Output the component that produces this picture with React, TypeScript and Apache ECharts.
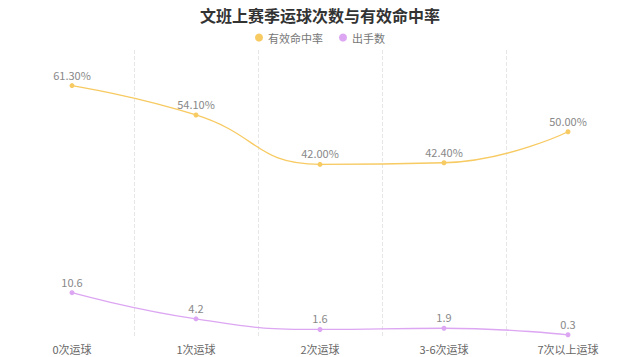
import React, { useEffect, useRef } from "react";
import * as echarts from "echarts";

const categories = ["0次运球", "1次运球", "2次运球", "3-6次运球", "7次以上运球"];
const fgPct = [61.3, 54.1, 42.0, 42.4, 50.0];
const attempts = [10.6, 4.2, 1.6, 1.9, 0.3];

export default function App() {
  const ref = useRef<HTMLDivElement>(null);
  useEffect(() => {
    const chart = echarts.init(ref.current!, null, { renderer: "svg" });
    const font = "'Noto Sans CJK SC', 'Microsoft YaHei', sans-serif";
    chart.setOption({
      animation: false,
      textStyle: { fontFamily: font },
      title: {
        text: "文班上赛季运球次数与有效命中率",
        left: "center",
        top: 2,
        textStyle: { fontSize: 16, fontWeight: "bold", color: "#333", fontFamily: font },
      },
      legend: {
        top: 27,
        left: "center",
        itemWidth: 8,
        itemHeight: 8,
        itemGap: 16,
        icon: "circle",
        textStyle: { fontSize: 11, color: "#777", fontFamily: font },
        data: ["有效命中率", "出手数"],
      },
      grid: { left: 10, right: 10, top: 50, bottom: 21 },
      xAxis: {
        type: "category",
        data: categories,
        boundaryGap: true,
        axisLine: { show: false },
        axisTick: { show: false },
        axisLabel: { color: "#666", fontSize: 11, margin: 7, fontFamily: font },
        splitLine: {
          show: true,
          showMinLine: false,
          showMaxLine: false,
          lineStyle: { type: "dashed", color: "#e6e6e6" },
        },
      },
      yAxis: {
        type: "value",
        min: 0,
        max: 70,
        show: false,
        splitLine: { show: false },
      },
      series: [
        {
          name: "有效命中率",
          type: "line",
          smooth: true,
          data: fgPct,
          symbol: "circle",
          symbolSize: 5,
          itemStyle: { color: "#F7CA62" },
          lineStyle: { width: 1.3, color: "#F7CA62" },
          label: {
            show: true,
            position: "top",
            distance: 3,
            color: "#888",
            fontSize: 11,
            formatter: (p: any) => p.value.toFixed(2) + "%",
          },
        },
        {
          name: "出手数",
          type: "line",
          smooth: true,
          data: attempts,
          symbol: "circle",
          symbolSize: 5,
          itemStyle: { color: "#DCA6F2" },
          lineStyle: { width: 1.3, color: "#DCA6F2" },
          label: {
            show: true,
            position: "top",
            distance: 3,
            color: "#888",
            fontSize: 11,
          },
        },
      ],
    });
    return () => chart.dispose();
  }, []);
  return (
    <div
      ref={ref}
      style={{ position: "fixed", left: 0, top: 0, width: 640, height: 357, background: "#fff" }}
    />
  );
}
